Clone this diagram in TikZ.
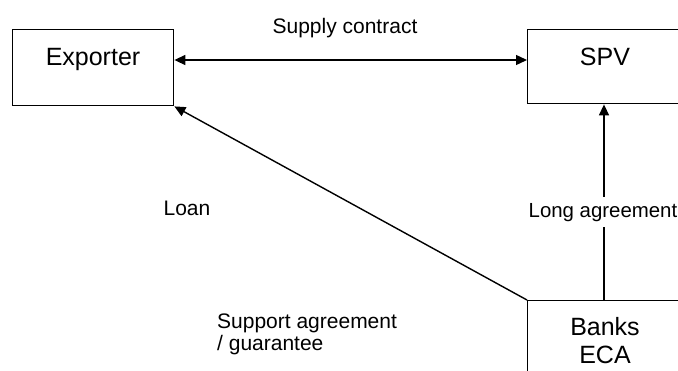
\documentclass[tikz,border=0pt]{standalone}
\usepackage{fontspec}
\setmainfont{Liberation Sans}
\usetikzlibrary{arrows.meta}
\begin{document}
\begin{tikzpicture}[x=1pt,y=-1pt,
  box/.style={draw, line width=1.4pt, rectangle, inner sep=0pt, anchor=north west},
  big/.style={font=\fontsize{25}{28}\selectfont, inner sep=0pt},
  small/.style={font=\fontsize{21}{22}\selectfont, inner sep=0pt},
  conn/.style={line width=1.4pt, -{Triangle[length=11pt,width=10pt]}},
  dconn/.style={line width=1.4pt, {Triangle[length=11pt,width=10pt]}-{Triangle[length=11pt,width=10pt]}}]
\clip (0,0) rectangle (678,370);
\fill[white] (0,0) rectangle (678,370);
% boxes
\node[box, minimum width=161pt, minimum height=76pt] (ex) at (12,29) {};
\node[box, minimum width=157pt, minimum height=74pt] (spv) at (527,29) {};
\node[box, minimum width=157pt, minimum height=90pt] (banks) at (527,300) {};
% box texts
\node[big, anchor=base] (ext) at (93,65) {Exporter};
\node[big, anchor=base] (spvt) at (605,65) {SPV};
\node[big, anchor=base] (bankst) at (605,335) {Banks};
\node[big, anchor=base] (ecat) at (605,363) {ECA};
% connectors
\draw[dconn] (ex.east |- 0,60) -- (spv.west |- 0,60);
\draw[conn] (banks.north west) -- (ex.south east);
\draw[conn] (604,300) coordinate (vstart) -- (spv.south -| vstart);
% labels
\node[small, anchor=base] (supply) at (345,33) {Supply contract};
\node[small, anchor=base] (loan) at (187,215) {Loan};
\node[font=\fontsize{20.4}{22}\selectfont, fill=white, inner ysep=6pt, inner xsep=0pt, anchor=base] (long) at (603,217) {Long agreement};
\node[small, anchor=base west] (sup1) at (217,328) {Support agreement};
\node[small, anchor=base west] (sup2) at (217,350) {/ guarantee};
\end{tikzpicture}
\end{document}
